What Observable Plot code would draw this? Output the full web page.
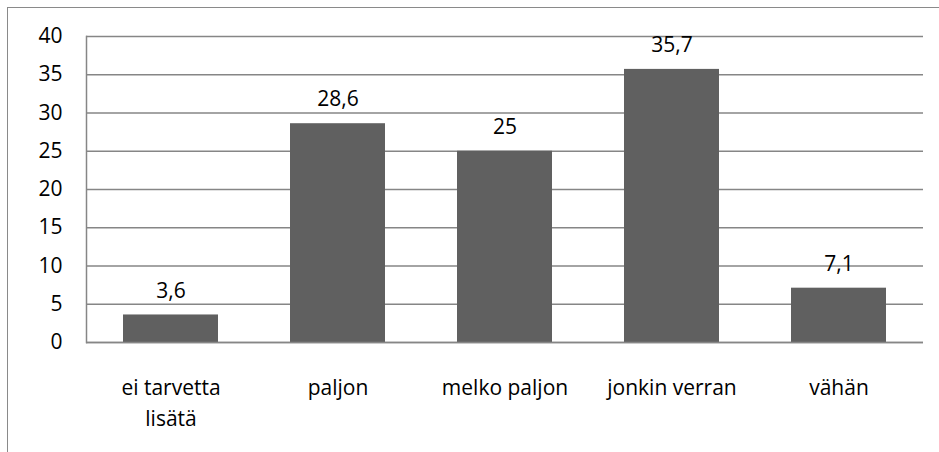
<!DOCTYPE html>
<html>
<head>
<meta charset="utf-8">
<script src="https://cdn.jsdelivr.net/npm/d3@7"></script>
<script src="https://cdn.jsdelivr.net/npm/@observablehq/plot@0.6"></script>
<style>
  html, body { margin: 0; padding: 0; background: #fff; }
  #wrap { position: relative; width: 939px; height: 452px; overflow: hidden; }
  #border { position: absolute; left: 7px; top: 7px; width: 1000px; height: 1000px;
            border-left: 1.5px solid #8a8a8a; border-top: 1.5px solid #8a8a8a; box-sizing: border-box; }
  #chart { position: absolute; left: 0; top: 0; }
</style>
</head>
<body>
<div id="wrap"><div id="border"></div><div id="chart"></div></div>
<script>
const categories = ["ei tarvetta\nlisätä", "paljon", "melko paljon", "jonkin verran", "vähän"];
const values = [3.6, 28.6, 25, 35.7, 7.1];
const yTicks = [0, 5, 10, 15, 20, 25, 30, 35, 40];

const data = categories.map((c, i) => ({category: c, value: values[i]}));
const fmt = v => String(v).replace(".", ",");
const font = "'Open Sans', sans-serif";

const chart = Plot.plot({
  width: 939,
  height: 452,
  marginLeft: 86,
  marginRight: 16,
  marginTop: 36,
  marginBottom: 110,
  style: {fontFamily: font, fontSize: "21px", color: "#000", background: "transparent"},
  x: {domain: categories, paddingInner: 0.434, paddingOuter: 0.217, label: null},
  y: {domain: [0, 40], label: null},
  marks: [
    Plot.gridY(yTicks, {stroke: "#868686", strokeOpacity: 1, strokeWidth: 1.5}),
    Plot.axisY(yTicks, {tickSize: 0, tickPadding: 24, fontSize: 21, label: null}),
    Plot.axisX({tickSize: 0, tickPadding: 30, fontSize: 21, lineHeight: 1.5, label: null}),
    Plot.barY(data, {x: "category", y: "value", fill: "#606060"}),
    Plot.ruleY([0], {stroke: "#868686", strokeWidth: 1.5}),
    Plot.frame({anchor: "left", stroke: "#868686", strokeWidth: 1.5}),
    Plot.text(data, {x: "category", y: "value", text: d => fmt(d.value), dy: -24, fontSize: 21, fill: "#000"})
  ]
});
document.getElementById("chart").appendChild(chart);
</script>
</body>
</html>
